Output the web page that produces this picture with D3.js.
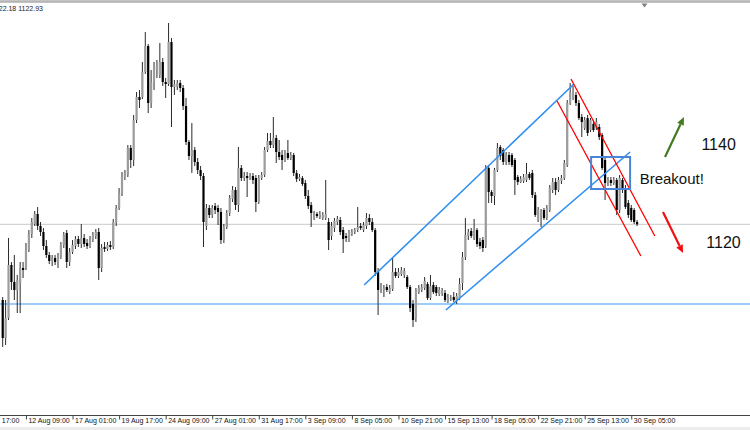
<!DOCTYPE html>
<html><head><meta charset="utf-8">
<script src="https://cdn.jsdelivr.net/npm/d3@7"></script>
<style>html,body{margin:0;padding:0;background:#fff;overflow:hidden}</style>
</head><body>
<svg id="c" width="750" height="430"></svg>
<script>
const opens = [
1104,1094.5,1099.5,1112.75,1108.5,1106.5,1108.25,1112,1112,1116.5,
1120.5,1123,1125.5,1122.5,1121,1117.5,1115.25,1113.75,1114.5,1113.5,
1114.75,1117.75,1120.75,1113.5,1116,1117.5,1119.25,1118,1119.5,1118.25,
1117.5,1119,1120,1121,1112,1117.25,1116.75,1117.75,1117.25,1123.5,
1127,1130.75,1134.75,1135.25,1142,1139,1149,1154.75,1154.75,1161,
1167.5,1153.25,1158.5,1161.5,1160.25,1163.5,1158.5,1158,1168.5,1157.25,
1157.25,1158.25,1157,1152.5,1143.5,1140,1141.5,1138.5,1136.5,1135,
1122.5,1127,1125.25,1127.5,1127,1126,1119,1122.25,1125.75,1129.25,
1131.5,1127.75,1137,1134.5,1135,1134.5,1135,1134.5,1128.5,1134.5,
1135.25,1141.5,1143.75,1142.75,1144.5,1141,1140.25,1139,1140.75,1139.5,
1140.25,1135.75,1134.25,1134.5,1133.25,1130,1127.75,1124.5,1125.5,1124.75,
1124.5,1124.5,1123.5,1120,1122,1123.5,1124,1121.5,1120,1119,
1120.5,1121,1121.5,1122.5,1121.5,1122.5,1124.5,1123.5,1121.5,1111,
1106.5,1106.5,1107.25,1106,1106.75,1111,1110,1110.5,1110.25,1109.75,
1107.25,1103,1099.5,1106,1106.5,1107,1108,1104.5,1107.75,1107.25,
1105.5,1105.75,1105.75,1103.75,1104.25,1104.75,1103.75,1104.5,1108.25,1114.75,
1120,1121.25,1119.5,1121.5,1118.5,1119,1117.5,1137,1131,1130,
1136.5,1142.25,1141.5,1138.5,1140.25,1140.25,1139,1134.75,1133.5,1133.75,
1134,1135.5,1135.75,1130.25,1124,1125,1126.5,1124.5,1126.5,1131.5,
1133.5,1131.5,1133.75,1134.5,1137.75,1153.25,1154.5,1155.25,1153.25,1149.75,
1147,1149.5,1146.5,1148,1147,1147.25,1145.25,1139,1133.25,1134,
1133.25,1134,1126.5,1134,1132,1128.25,1127,1126.5,1123.5];
const highs = [
1104.75,1104,1119.5,1113.5,1115.25,1110.25,1113.5,1113.5,1118.25,1121.5,
1124.5,1126.25,1127.25,1123.5,1122,1119,1116,1115.25,1115.25,1115.75,
1118.5,1121,1121.5,1117,1119,1120,1120,1123,1120.5,1119.25,
1120,1121,1121.75,1122,1118,1118.5,1118.5,1118.75,1124.25,1127.75,
1132,1136,1136.5,1142.75,1142.75,1150.25,1156,1156.5,1163.5,1171,
1168,1161.5,1163.5,1164,1168.25,1164.5,1159.5,1173.25,1169.5,1159,
1159,1159,1157.75,1154.5,1144,1148.25,1142.25,1139.5,1137.5,1135.75,
1128,1127.75,1127.75,1128.25,1127.75,1127,1123,1126.5,1130.25,1132.5,
1132.25,1142.25,1137.75,1136,1136,1135.75,1135.75,1135.25,1135.25,1136,
1142.25,1145.75,1145.75,1149.75,1145.25,1144,1141.5,1141.5,1144,1141,
1140.75,1136.5,1135.5,1135,1134,1131.5,1128.5,1126.25,1126,1126.25,
1126,1134,1124.5,1123.5,1124.5,1125,1124.75,1122.25,1120.75,1121.5,
1121.75,1122,1127.25,1123.25,1123.5,1125.75,1125.5,1124.5,1122,1112,
1108.25,1107.75,1108,1107.75,1114.5,1112,1112,1112.25,1112,1110.25,
1107.75,1104,1107,1107.75,1108,1109.75,1108.5,1110.25,1108.5,1107.75,
1107.25,1107,1106.5,1105.5,1105.25,1106,1105.75,1109.5,1116,1124.5,
1121.75,1122,1124.25,1122,1119.5,1119.75,1137.75,1137.75,1131.5,1137,
1143.25,1142.75,1142,1141,1141,1140.75,1139.5,1135.25,1135,1135.5,
1138.25,1136,1136.5,1131,1127.25,1126.75,1127,1127.75,1132.75,1134.5,
1134.5,1134.75,1135.25,1139,1154,1158.25,1157.5,1156,1154,1150.5,
1149.75,1150.25,1149.5,1149,1149.5,1148,1145.75,1139.75,1134.75,1134.75,
1134.75,1134.5,1135.25,1134.5,1132.75,1129,1127.75,1127,1124];
const lows = [
1092.25,1092.75,1099,1106.5,1104,1100.75,1100.75,1109.5,1111.5,1116,
1119.5,1122.5,1121.5,1120,1116.5,1114.5,1113,1112.5,1112.75,1112,
1114.25,1117,1112,1112.5,1115.5,1116.75,1117.25,1117,1117.25,1116.75,
1117,1118.5,1119.25,1109,1111,1116,1116.25,1116.5,1116.75,1122.5,
1126.5,1130,1134,1134.75,1137,1137.5,1148.25,1152,1154.25,1160.5,
1150.75,1152,1156.5,1159.5,1159.5,1157.5,1154.5,1157.5,1147.25,1155.25,
1156.5,1156,1151.5,1142.75,1139,1135.75,1137.5,1135.5,1134,1117.25,
1121.5,1124.5,1124.5,1125.5,1122.75,1118,1118.25,1121.75,1125,1128.5,
1126.5,1126,1133.75,1133.75,1129.75,1134,1133,1126,1128,1134,
1134.75,1141,1142,1142,1138.25,1139,1136.5,1138.5,1139,1139,
1135,1133.5,1133.75,1132.5,1129.25,1126.75,1122.25,1124,1124.5,1124.25,
1124,1124,1116.5,1119,1121,1122.75,1120.25,1115.75,1118.5,1118.5,
1120,1120.5,1121,1121.5,1121,1121.75,1122.75,1121,1110,1100.25,
1105.75,1104.75,1106,1105.5,1106.25,1109.5,1109.5,1110,1109.5,1106.75,
1101,1097.25,1098.5,1105.5,1106,1106.5,1104,1104,1105.5,1105,
1105,1105,1103.5,1103.25,1103.75,1103.5,1103,1104,1106.5,1114,
1119,1119.5,1119,1117.25,1116.75,1116,1117,1128.25,1128.25,1127.75,
1136,1139,1137.75,1137.75,1137.75,1137.25,1130.25,1132.75,1133.25,1133.25,
1133.5,1134,1129.5,1124.75,1123.5,1122.25,1124,1124,1126,1130.75,
1130.25,1131,1133,1134,1137.25,1152.75,1154,1152.5,1149,1144.75,
1146.5,1145,1146,1146,1146.5,1144,1136.5,1129,1132.5,1132.5,
1132.75,1125.25,1125.75,1130.75,1126.75,1124.5,1123.5,1123,1122.5];
const closes = [
1094.5,1099.5,1112.75,1108.5,1106.5,1109,1112,1111.5,1116.5,1120.5,
1123.5,1125.5,1122.5,1121,1117.5,1115.25,1113.75,1114.5,1113.5,1114.75,
1117.75,1120.25,1113.5,1116,1117.75,1119.25,1118,1119.5,1118,1117.5,
1119,1120.25,1121,1112,1117,1116.75,1117.75,1117.25,1123.5,1127,
1130.75,1134.75,1135.75,1142,1139,1149,1154.75,1154,1161,1167.5,
1153.25,1158.5,1162,1162.5,1163.5,1158.5,1158,1168.5,1157.25,1158,
1158.25,1157,1152.5,1143.5,1140,1141.5,1138.5,1136.5,1135,1123.5,
1127,1125.25,1127,1126.5,1126,1119,1122.25,1125.75,1129.5,1131.5,
1127.75,1137,1134.5,1135,1134.5,1135,1134,1128.5,1134.5,1135.25,
1141.5,1143.75,1142.75,1144.5,1141,1139.75,1139,1140.75,1139.5,1140.25,
1135.75,1134.25,1134.75,1133,1130,1127.5,1125.75,1125.5,1125,1125.5,
1125.25,1125.5,1119,1122.5,1123.75,1124.25,1121,1119.25,1119.5,1121,
1121,1121.5,1122.25,1122,1122.75,1124.5,1123.5,1121.5,1111,1106.5,
1107.25,1107,1106.5,1107,1111,1110,1111,1111.5,1111.25,1107.25,
1102,1099,1106.5,1107,1107.25,1108.75,1104.5,1107.5,1106,1105.75,
1106.5,1106.25,1104,1104.75,1104.5,1104,1105,1108,1114.75,1120.25,
1121,1120,1121.75,1118,1117.5,1117,1137,1131,1130,1136.5,
1142,1140,1138.5,1140.25,1138.5,1137.75,1134,1133.5,1134.25,1134.75,
1135.5,1134.5,1130.25,1125.25,1126.5,1126,1124.5,1127,1132,1133.5,
1131.5,1134,1134.5,1138.25,1153.25,1155.75,1155.75,1153.25,1149.5,1148.5,
1149,1145.75,1149,1146.5,1148.5,1144.75,1137,1133.25,1134,1133.25,
1134,1126.5,1134.5,1131.5,1127.25,1125.25,1124,1123.5,1122.93];

const tickBars = [-8,8,24,40,56,72,88,104,120,136,152,168,184,200,216];
const tickLabels = ["7 Aug 17:00","12 Aug 09:00","17 Aug 01:00","19 Aug 17:00","24 Aug 09:00","27 Aug 01:00","31 Aug 17:00","3 Sep 09:00","8 Sep 05:00","10 Sep 21:00","15 Sep 13:00","18 Sep 05:00","22 Sep 21:00","25 Sep 13:00","30 Sep 05:00"];
const headerText = "XAUUSD,H4  1123.44 1124.03 1122.18 1122.93";
const lastPrice = 1122.93;
const supportLevel = 1103;
const blueChannel = [[[124.2,1107.75],[196.3,1158]],[[152.3,1101.5],[215.6,1141]]];
const redChannel = [[[195.3,1159.25],[224.1,1120]],[[190.5,1153.75],[219.3,1115]]];
const breakoutBox = [[202.2,1139.75],[215.6,1131.75]];
const upArrow = [[227.6,1139.75],[234.1,1149.75]];
const downArrow = [[226.9,1126],[233.8,1115.75]];
const notes = [
  {text:"Breakout!", bar:218.9, price:1132.9, size:15},
  {text:"1140", bar:240.1, price:1141.6, size:16},
  {text:"1120", bar:241.8, price:1116.9, size:16}];

const W = 750, H = 430, axisY = 415.5;
const svg = d3.select("#c");
const x = d3.scaleLinear().domain([0, 218]).range([2.7, 2.7 + 2.91 * 218]);
const y = d3.scaleLinear().domain([1075.25, 1179]).range([415, 0]);

// frame top
svg.append("rect").attr("x",0).attr("y",0).attr("width",W).attr("height",1.5).attr("fill","#c4c4c4");
svg.append("line").attr("x1",0).attr("x2",W).attr("y1",2).attr("y2",2).attr("stroke","#888").attr("stroke-width",1);
svg.append("path").attr("d","M641.5,3.5 L647.5,3.5 L644.5,7.5 Z").attr("fill","#808080");
svg.append("rect").attr("x",0).attr("y",427).attr("width",W).attr("height",3).attr("fill","#ececec");

// horizontal levels
svg.append("line").attr("x1",0).attr("x2",W).attr("y1",y(lastPrice)).attr("y2",y(lastPrice))
  .attr("stroke","#d3d3d3").attr("stroke-width",1.2);
svg.append("line").attr("x1",0).attr("x2",W).attr("y1",y(supportLevel)).attr("y2",y(supportLevel))
  .attr("stroke","#3a9af5").attr("stroke-width",1.1);

// candles
const bars = d3.range(closes.length).map(i => ({i, o:opens[i], h:Math.max(highs[i],opens[i],closes[i]), l:Math.min(lows[i],opens[i],closes[i]), c:closes[i]}));
const g = svg.append("g");
g.selectAll("line.w").data(bars).join("line").attr("class","w")
  .attr("x1",d=>x(d.i)).attr("x2",d=>x(d.i)).attr("y1",d=>y(d.h)).attr("y2",d=>y(d.l))
  .attr("stroke","#2a2a2a").attr("stroke-width",1);
g.selectAll("rect.b").data(bars).join("rect").attr("class","b")
  .attr("x",d=>x(d.i)-1.1).attr("width",2.2)
  .attr("y",d=>y(Math.max(d.o,d.c)))
  .attr("height",d=>Math.max(1,Math.abs(y(d.o)-y(d.c))))
  .attr("fill",d=>d.c>=d.o?"#9c9c9c":"#000");

// channels
const ln = d3.line().x(d=>x(d[0])).y(d=>y(d[1]));
blueChannel.forEach(s=>svg.append("path").attr("d",ln(s)).attr("fill","none").attr("stroke","#2f8ff0").attr("stroke-width",1.6));
redChannel.forEach(s=>svg.append("path").attr("d",ln(s)).attr("fill","none").attr("stroke","#ff0000").attr("stroke-width",1.3));
svg.append("rect")
  .attr("x",x(breakoutBox[0][0])).attr("y",y(breakoutBox[0][1]))
  .attr("width",x(breakoutBox[1][0])-x(breakoutBox[0][0]))
  .attr("height",y(breakoutBox[1][1])-y(breakoutBox[0][1]))
  .attr("fill","none").attr("stroke","#4a84d6").attr("stroke-width",2);

// arrows
function arrow(seg, color){
  const x1=x(seg[0][0]), y1=y(seg[0][1]), x2=x(seg[1][0]), y2=y(seg[1][1]);
  const a = Math.atan2(y2-y1, x2-x1), L=8, Wd=3.6;
  const bx = x2 - L*Math.cos(a), by = y2 - L*Math.sin(a);
  svg.append("line").attr("x1",x1).attr("y1",y1).attr("x2",bx).attr("y2",by).attr("stroke",color).attr("stroke-width",2.2);
  const px = -Math.sin(a)*Wd, py = Math.cos(a)*Wd;
  svg.append("path").attr("d",`M${x2},${y2}L${bx+px},${by+py}L${bx-px},${by-py}Z`).attr("fill",color);
}
arrow(upArrow, "#437a22");
arrow(downArrow, "#f01010");

// notes
notes.forEach(n=>svg.append("text").attr("x",x(n.bar)).attr("y",y(n.price))
  .attr("font-family","Liberation Sans, Arial, sans-serif").attr("font-size",n.size).attr("fill","#111").text(n.text));

// header
svg.append("text").attr("x",43).attr("y",11).attr("text-anchor","end")
  .attr("font-family","Liberation Sans, Arial, sans-serif").attr("font-size",7).attr("fill","#1a1a2a").text(headerText);

// axis
svg.append("line").attr("x1",0).attr("x2",W).attr("y1",axisY).attr("y2",axisY).attr("stroke","#444").attr("stroke-width",1);
const ax = svg.append("g").attr("transform",`translate(0,${axisY})`)
  .call(d3.axisBottom(x).tickValues(tickBars).tickFormat((d,i)=>tickLabels[i]).tickSize(4).tickPadding(2));
ax.select(".domain").remove();
ax.selectAll(".tick line").attr("stroke","#444");
ax.selectAll(".tick text").attr("text-anchor","start").attr("dx",2).attr("dy","0.2em")
  .attr("font-family","Liberation Sans, Arial, sans-serif").attr("font-size",7).attr("fill","#111");
</script>
</body></html>
